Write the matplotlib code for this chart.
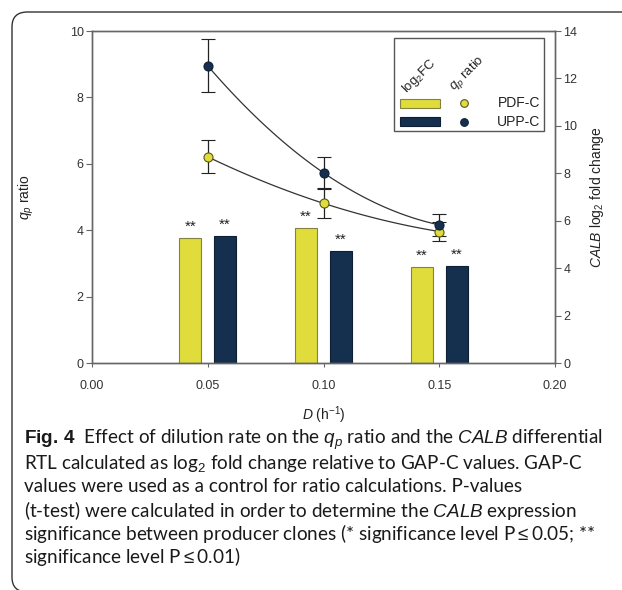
import numpy as np
import matplotlib
matplotlib.use("Agg")
import matplotlib.pyplot as plt
from matplotlib.patches import FancyBboxPatch, Rectangle
from matplotlib.lines import Line2D

plt.rcParams['font.family'] = ['Liberation Sans', 'DejaVu Sans']
plt.rcParams['mathtext.fontset'] = 'custom'
plt.rcParams['mathtext.rm'] = 'Liberation Sans'
plt.rcParams['mathtext.it'] = 'Liberation Sans:italic'
plt.rcParams['mathtext.bf'] = 'Liberation Sans:bold'

# data
dilution = [0.05, 0.10, 0.15]
clones = ['PDF-C', 'UPP-C']
qp_pdf = [6.21, 4.81, 3.96]
qp_pdf_err = [0.50, 0.43, 0.30]
qp_upp = [8.95, 5.73, 4.16]
qp_upp_err = [0.80, 0.47, 0.32]
fc_pdf = [5.26, 5.68, 4.06]
fc_upp = [5.36, 4.72, 4.10]
stars_pdf = ['**', '**', '**']
stars_upp = ['**', '**', '**']

yellow = '#dfdc3c'
navy = '#15304f'

fig = plt.figure(figsize=(6.22, 5.9), dpi=100)
W, H = 622, 590

# rounded frame around the figure (right and bottom run off the page)
frame = FancyBboxPatch((12 / W, -2 / H), 1.2, (590 + 2 - 12) / H,
                       boxstyle="round,pad=0,rounding_size=0.025",
                       transform=fig.transFigure, fc='none', ec='#333333',
                       lw=1.0, clip_on=False)
fig.patches.append(frame)

ax2 = fig.add_axes([92 / W, 1 - 363 / H, 463 / W, 332 / H])
ax = ax2.twinx()
ax.yaxis.tick_left()
ax.yaxis.set_label_position('left')
ax2.yaxis.tick_right()
ax2.yaxis.set_label_position('right')
ax.set_zorder(ax2.get_zorder() + 1)
ax.patch.set_visible(False)

x = np.array(dilution)
bw = 0.0095
off = 0.0075
b1 = ax2.bar(x - off, fc_pdf, bw, color=yellow, edgecolor='#858240', lw=0.8)
b2 = ax2.bar(x + off, fc_upp, bw, color=navy, edgecolor='#0e1f33', lw=0.8)
for bars, st in ((b1, stars_pdf), (b2, stars_upp)):
    for r, s in zip(bars, st):
        ax2.annotate(s, (r.get_x() + r.get_width() / 2, r.get_height()),
                     xytext=(0, 3), textcoords='offset points',
                     ha='center', va='bottom', fontsize=11, color='#222222')

# fitted curves through the ratio points
xs = np.linspace(x.min(), x.max(), 100)
for vals in (qp_upp, qp_pdf):
    p = np.polyfit(x, vals, 2)
    ax.plot(xs, np.polyval(p, xs), color='#333333', lw=0.9, zorder=2)

ax.errorbar(x, qp_pdf, yerr=qp_pdf_err, fmt='o', ms=6.5, mfc=yellow,
            mec='#555522', mew=0.8, ecolor='#222222', elinewidth=0.9,
            capsize=5, capthick=0.9, zorder=3)
ax.errorbar(x, qp_upp, yerr=qp_upp_err, fmt='o', ms=6.5, mfc=navy,
            mec='#0e1f33', mew=0.8, ecolor='#222222', elinewidth=0.9,
            capsize=5, capthick=0.9, zorder=3)

ax.set_xlim(0, 0.20)
ax.set_ylim(0, 10)
ax2.set_ylim(0, 14)
ax2.set_xticks([0, 0.05, 0.10, 0.15, 0.20])
ax2.set_xticklabels(['0.00', '0.05', '0.10', '0.15', '0.20'])
ax.set_yticks(range(0, 11, 2))
ax2.set_yticks(range(0, 15, 2))

for a in (ax, ax2):
    for sp in a.spines.values():
        sp.set_color('#666666')
        sp.set_linewidth(1.0)
    a.tick_params(direction='out', length=4, width=0.8, color='#666666',
                  labelsize=9, labelcolor='#333333', pad=2)
ax2.tick_params(axis='x', length=3, pad=9)

ax.set_ylabel(r'$q_p$ ratio', fontsize=10, color='#222222', labelpad=24)
ax2.set_ylabel(r'$\mathit{CALB}$ log$_2$ fold change', fontsize=10,
               color='#222222', labelpad=8)
ax2.set_xlabel(r'$\mathit{D}$ (h$^{-1}$)', fontsize=10, color='#222222',
               labelpad=9)

# legend drawn by hand: headers rotated, bar swatch + marker per row
ax.add_patch(Rectangle((0.652, 0.699), 0.324, 0.280, transform=ax.transAxes,
                       fc='white', ec='#555555', lw=1.0, zorder=5))
ax.text(0.708, 0.862, r'log$_2$FC', rotation=45, transform=ax.transAxes,
        ha='center', va='center', fontsize=9.5, color='#222222', zorder=6)
ax.text(0.810, 0.872, r'$q_p$ ratio', rotation=45, transform=ax.transAxes,
        ha='center', va='center', fontsize=9.5, color='#222222', zorder=6)
rows = [(yellow, '#858240', '#555522', 0.782), (navy, '#0e1f33', '#0e1f33', 0.727)]
for (fc, ec, mec, yy), name in zip(rows, clones):
    ax.add_patch(Rectangle((0.666, yy - 0.014), 0.086, 0.028,
                           transform=ax.transAxes, fc=fc, ec=ec, lw=0.8,
                           zorder=6))
    ax.add_line(Line2D([0.803], [yy], transform=ax.transAxes, marker='o',
                       ms=5.5, mfc=fc, mec=mec, mew=0.8, zorder=6))
    ax.text(0.968, yy, name, transform=ax.transAxes, ha='right',
            va='center', fontsize=10, color='#222222', zorder=6)

# caption
cap = [
    r'$\mathbf{Fig.\,4}$  Effect of dilution rate on the $q_p$ ratio and the $\mathit{CALB}$ differential',
    r'RTL calculated as log$_2$ fold change relative to GAP-C values. GAP-C',
    'values were used as a control for ratio calculations. P-values',
    r'(t-test) were calculated in order to determine the $\mathit{CALB}$ expression',
    r'significance between producer clones (* significance level P$\leq$0.05; **',
    r'significance level P$\leq$0.01)',
]
for i, line in enumerate(cap):
    fig.text(24 / W, 1 - (440 + 23.4 * i) / H, line, fontsize=13.6,
             family=['Lato', 'DejaVu Sans'],
             ha='left', va='center', color='#1a1a1a')

fig.savefig('out.png', dpi=100)
